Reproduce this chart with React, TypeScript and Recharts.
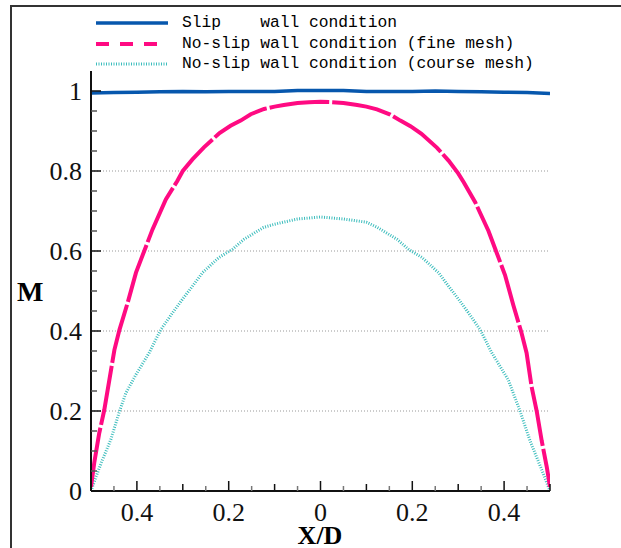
import { Line, LineChart, ReferenceLine, XAxis, YAxis } from "recharts";

// Slip wall condition
const slipX = [-0.5, -0.45, -0.4, -0.35, -0.3, -0.25, -0.2, -0.1, -0.05, 0, 0.05, 0.1, 0.2, 0.25, 0.3, 0.35, 0.4, 0.45, 0.5];
const slipM = [0.995, 0.996, 0.997, 0.998, 0.999, 0.998, 0.999, 0.999, 1.001, 1.001, 1.001, 0.999, 0.999, 1.0, 0.999, 0.998, 0.997, 0.996, 0.994];

// No-slip, fine mesh
const fineX = [
  -0.5, -0.493, -0.482, -0.471, -0.46, -0.449, -0.438, -0.42, -0.402, -0.384, -0.366, -0.337, -0.312, -0.3, -0.279,
  -0.254, -0.22, -0.196, -0.174, -0.152, -0.123, -0.1, -0.08, -0.05, -0.025, 0, 0.025, 0.05, 0.08, 0.1, 0.123, 0.152,
  0.174, 0.196, 0.22, 0.254, 0.279, 0.3, 0.312, 0.337, 0.366, 0.384, 0.402, 0.42, 0.438, 0.449, 0.46, 0.471, 0.482,
  0.493, 0.5,
];
const fineM = [
  0.01, 0.07, 0.145, 0.203, 0.278, 0.353, 0.403, 0.471, 0.546, 0.6, 0.654, 0.729, 0.775, 0.8, 0.829, 0.859, 0.895,
  0.913, 0.926, 0.942, 0.955, 0.961, 0.965, 0.97, 0.972, 0.973, 0.972, 0.97, 0.965, 0.961, 0.954, 0.941, 0.926, 0.912,
  0.893, 0.858, 0.826, 0.794, 0.772, 0.722, 0.65, 0.595, 0.54, 0.465, 0.395, 0.345, 0.26, 0.2, 0.125, 0.06, 0.01,
];

// No-slip, coarse mesh
const coarseX = [
  -0.5, -0.489, -0.475, -0.457, -0.438, -0.424, -0.402, -0.373, -0.348, -0.322, -0.301, -0.279, -0.257, -0.221, -0.192,
  -0.167, -0.124, -0.1, -0.05, 0, 0.05, 0.1, 0.124, 0.167, 0.192, 0.221, 0.257, 0.279, 0.301, 0.322, 0.348, 0.373,
  0.409, 0.435, 0.457, 0.482, 0.5,
];
const coarseM = [
  0.0, 0.036, 0.078, 0.128, 0.199, 0.245, 0.291, 0.346, 0.403, 0.446, 0.479, 0.512, 0.546, 0.584, 0.604, 0.629, 0.659,
  0.667, 0.68, 0.685, 0.68, 0.672, 0.659, 0.629, 0.604, 0.584, 0.546, 0.512, 0.479, 0.446, 0.403, 0.346, 0.278, 0.199,
  0.124, 0.053, 0.0,
];

const xTicks = [
  -0.5, -0.45, -0.4, -0.35, -0.3, -0.25, -0.2, -0.15, -0.1, -0.05, 0, 0.05, 0.1, 0.15, 0.2, 0.25, 0.3, 0.35, 0.4, 0.45, 0.5,
];
const yTicks = [0, 0.05, 0.1, 0.15, 0.2, 0.25, 0.3, 0.35, 0.4, 0.45, 0.5, 0.55, 0.6, 0.65, 0.7, 0.75, 0.8, 0.85, 0.9, 0.95, 1];
const gridY = [0.2, 0.4, 0.6, 0.8];

const legendItems = [
  { label: "Slip    wall condition", color: "#0757ad", width: 3.5, dash: undefined },
  { label: "No-slip wall condition (fine mesh)", color: "#ff0a82", width: 4, dash: "13 11" },
  { label: "No-slip wall condition (course mesh)", color: "#3dbdbd", width: 3, dash: "1 1.5" },
];

const toRows = (xs: number[], ys: number[]) => xs.map((x, i) => ({ x, m: ys[i] }));

const serif = "'Liberation Serif', 'Times New Roman', serif";

function tickLevel(v: number) {
  const k = Math.round(v * 20);
  if (k % 4 === 0) return 2;
  if (k % 2 === 0) return 1;
  return 0;
}

const XTick = (props: any) => {
  const { x, y, payload } = props;
  const lvl = tickLevel(payload.value);
  const len = lvl === 2 ? 10 : lvl === 1 ? 7 : 5;
  return (
    <g>
      <line x1={x} x2={x} y1={y} y2={y - len} stroke={lvl === 0 ? "#777" : "#111"} strokeWidth={1.5} />
      {lvl === 2 && (
        <text x={x} y={y + 30} textAnchor="middle" fontFamily={serif} fontSize={26} fill="#111">
          {String(Math.abs(Math.round(payload.value * 10) / 10))}
        </text>
      )}
    </g>
  );
};

const YTick = (props: any) => {
  const { x, y, payload } = props;
  const lvl = tickLevel(payload.value);
  const len = lvl === 2 ? 10 : 6;
  return (
    <g>
      <line x1={x} x2={x + len} y1={y} y2={y} stroke={lvl === 2 ? "#111" : "#555"} strokeWidth={1.5} />
      {lvl === 2 && (
        <text x={x - 9} y={y + 9} textAnchor="end" fontFamily={serif} fontSize={26} fill="#111">
          {String(Math.round(payload.value * 10) / 10)}
        </text>
      )}
    </g>
  );
};

export default function App() {
  return (
    <div style={{ position: "absolute", left: 0, top: 0, width: 621, height: 548, background: "#fff", overflow: "hidden" }}>
      <div style={{ position: "absolute", left: 10, top: 5, width: 611, height: 2, background: "#333" }} />
      <div style={{ position: "absolute", left: 10, top: 5, width: 2, height: 543, background: "#333" }} />
      <LineChart width={621} height={548} margin={{ top: 71, right: 71, bottom: 17, left: 31 }}>
        <XAxis
          type="number"
          dataKey="x"
          domain={[-0.5, 0.5]}
          ticks={xTicks}
          interval={0}
          height={40}
          tickSize={0}
          tickMargin={0}
          tickLine={false}
          tick={<XTick />}
          axisLine={{ stroke: "#111", strokeWidth: 2 }}
          allowDataOverflow
        />
        <YAxis
          type="number"
          domain={[0, 1.05]}
          ticks={yTicks}
          interval={0}
          width={60}
          tickSize={0}
          tickMargin={0}
          tickLine={false}
          tick={<YTick />}
          axisLine={{ stroke: "#111", strokeWidth: 2 }}
          allowDataOverflow
        />
        {gridY.map((v) => (
          <ReferenceLine key={v} y={v} stroke="#999" strokeDasharray="1 2" strokeWidth={1} />
        ))}
        <Line
          data={toRows(coarseX, coarseM)}
          dataKey="m"
          type="linear"
          stroke="#3dbdbd"
          strokeWidth={3}
          strokeDasharray="1 1.5"
          dot={false}
          isAnimationActive={false}
        />
        <Line
          data={toRows(fineX, fineM)}
          dataKey="m"
          type="linear"
          stroke="#ff0a82"
          strokeWidth={4}
          strokeDasharray="60 3"
          dot={false}
          isAnimationActive={false}
        />
        <Line
          data={toRows(slipX, slipM)}
          dataKey="m"
          type="linear"
          stroke="#0757ad"
          strokeWidth={3.5}
          dot={false}
          isAnimationActive={false}
        />
      </LineChart>
      <div style={{ position: "absolute", left: 0, top: 0 }}>
        {legendItems.map((it, i) => (
          <div key={it.label} style={{ position: "absolute", left: 96, top: 13 + i * 20.5, height: 20, width: 460 }}>
            <svg width={72} height={20} style={{ position: "absolute", left: 0, top: 0 }}>
              <line x1={0} x2={72} y1={10} y2={10} stroke={it.color} strokeWidth={it.width} strokeDasharray={it.dash} />
            </svg>
            <div
              style={{
                position: "absolute",
                left: 86,
                top: 0,
                fontFamily: "'Liberation Mono', 'Courier New', monospace",
                fontSize: 16.3,
                lineHeight: "20px",
                whiteSpace: "pre",
                color: "#000",
              }}
            >
              {it.label}
            </div>
          </div>
        ))}
      </div>
      <div style={{ position: "absolute", left: 17, top: 276, fontFamily: serif, fontWeight: "bold", fontSize: 28, lineHeight: "32px" }}>
        M
      </div>
      <div
        style={{
          position: "absolute",
          left: 220,
          width: 200,
          textAlign: "center",
          top: 524,
          height: 24,
          fontFamily: serif,
          fontWeight: "bold",
          fontSize: 26,
          lineHeight: "24px",
        }}
      >
        X/D
      </div>
    </div>
  );
}
